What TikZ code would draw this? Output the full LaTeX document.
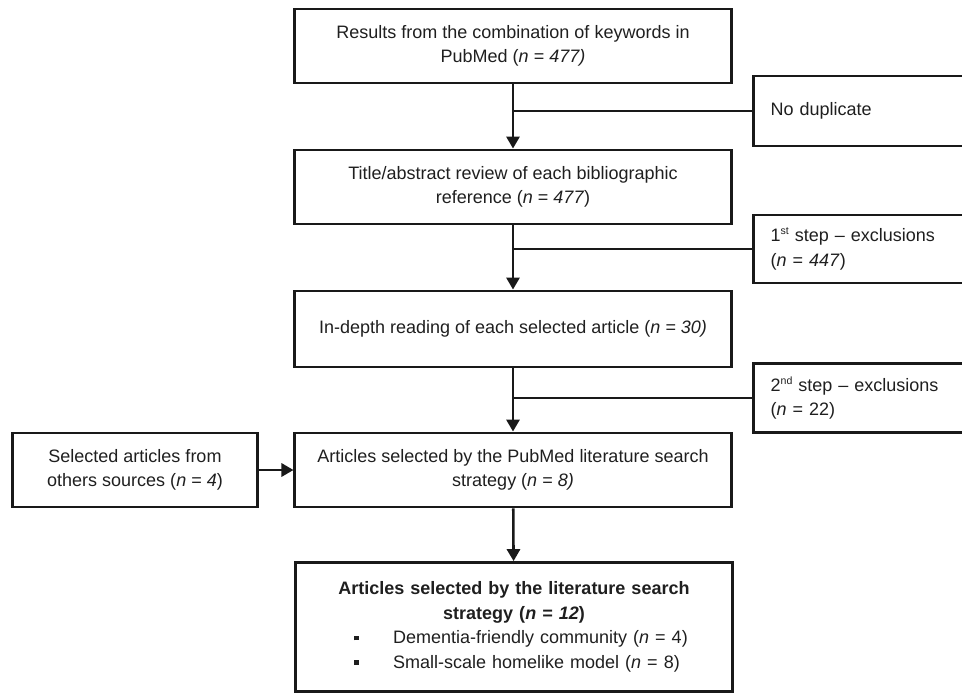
\documentclass[tikz,border=0pt]{standalone}
\usepackage{fontspec}
\setmainfont{Liberation Sans}
\usepackage{tikz}
\usetikzlibrary{arrows.meta}
\usetikzlibrary{positioning}

\newcommand{\sqbull}{\rule[0.09cm]{0.12cm}{0.12cm}}
\newcommand{\ordsup}[1]{\raisebox{0.75ex}{\fontsize{7.5}{8}\selectfont #1}}

\begin{document}
\begin{tikzpicture}[x=0.025cm,y=-0.025cm,
        box/.style={draw=black!90,line width=2.1pt,minimum width=10.9cm,minimum height=1.85cm,align=center,text=black!88,font=\fontsize{12.8}{17.5}\selectfont},
        sidebox/.style={draw=black!90,line width=2.1pt,anchor=west,minimum height=1.75cm,text width=6cm,inner xsep=0.43cm,align=left,text=black!88,font=\fontsize{12.8}{17.5}\selectfont},
        flow/.style={line width=1.8pt,draw=black!90,-{Triangle[length=0.3cm,width=0.33cm]}},
        branch/.style={line width=1.8pt,draw=black!90}]
        \useasboundingbox (0,0) rectangle (962,692);

        \node[box] (pubmed) at (513,46) {Results from the combination of keywords in\\ PubMed (\textit{n = 477)}};
        \node[box] (review) at (513,187) {Title/abstract review of each bibliographic\\ reference (\textit{n} = \textit{477})};
        \node[box,minimum height=1.9cm] (reading) at (513,329) {In-depth reading of each selected article (\textit{n = 30)}};
        \node[box] (strategy) at (513,470) {Articles selected by the PubMed literature search\\ strategy (\textit{n = 8)}};
        \node[box,minimum width=6.1cm] (others) at (135,470) {Selected articles from\\ others sources (\textit{n} = \textit{4})};
        \node[box,minimum height=3.22cm,text width=10.4cm,align=left] (final) at (514,627) {%
            {\centering\bfseries Articles selected by the literature search\\ strategy (\textit{n = 12})\par}
            \hspace*{1.2cm}\sqbull\hspace{0.86cm}Dementia-friendly community (\textit{n} = 4)\\
            \hspace*{1.2cm}\sqbull\hspace{0.86cm}Small-scale homelike model (\textit{n} = 8)};

        \node[sidebox] (nodup) at (752,111) {No duplicate};
        \node[sidebox,minimum height=1.7cm] (excl1) at (752,249) {1\ordsup{st} step -- exclusions\\ (\textit{n} = \textit{447})};
        \node[sidebox,minimum height=1.72cm] (excl2) at (752,398) {2\ordsup{nd} step -- exclusions\\ (\textit{n} = 22)};

        \draw[flow] (pubmed) -- (review);
        \draw[flow] (review) -- (reading);
        \draw[flow] (reading) -- (strategy);
        \draw[flow] (strategy) -- (final);
        \draw[flow] (others) -- (strategy);

        \draw[branch] (pubmed.south |- nodup.west) -- (nodup.west);
        \draw[branch] (review.south |- excl1.west) -- (excl1.west);
        \draw[branch] (reading.south |- excl2.west) -- (excl2.west);
    \end{tikzpicture}
\end{document}
